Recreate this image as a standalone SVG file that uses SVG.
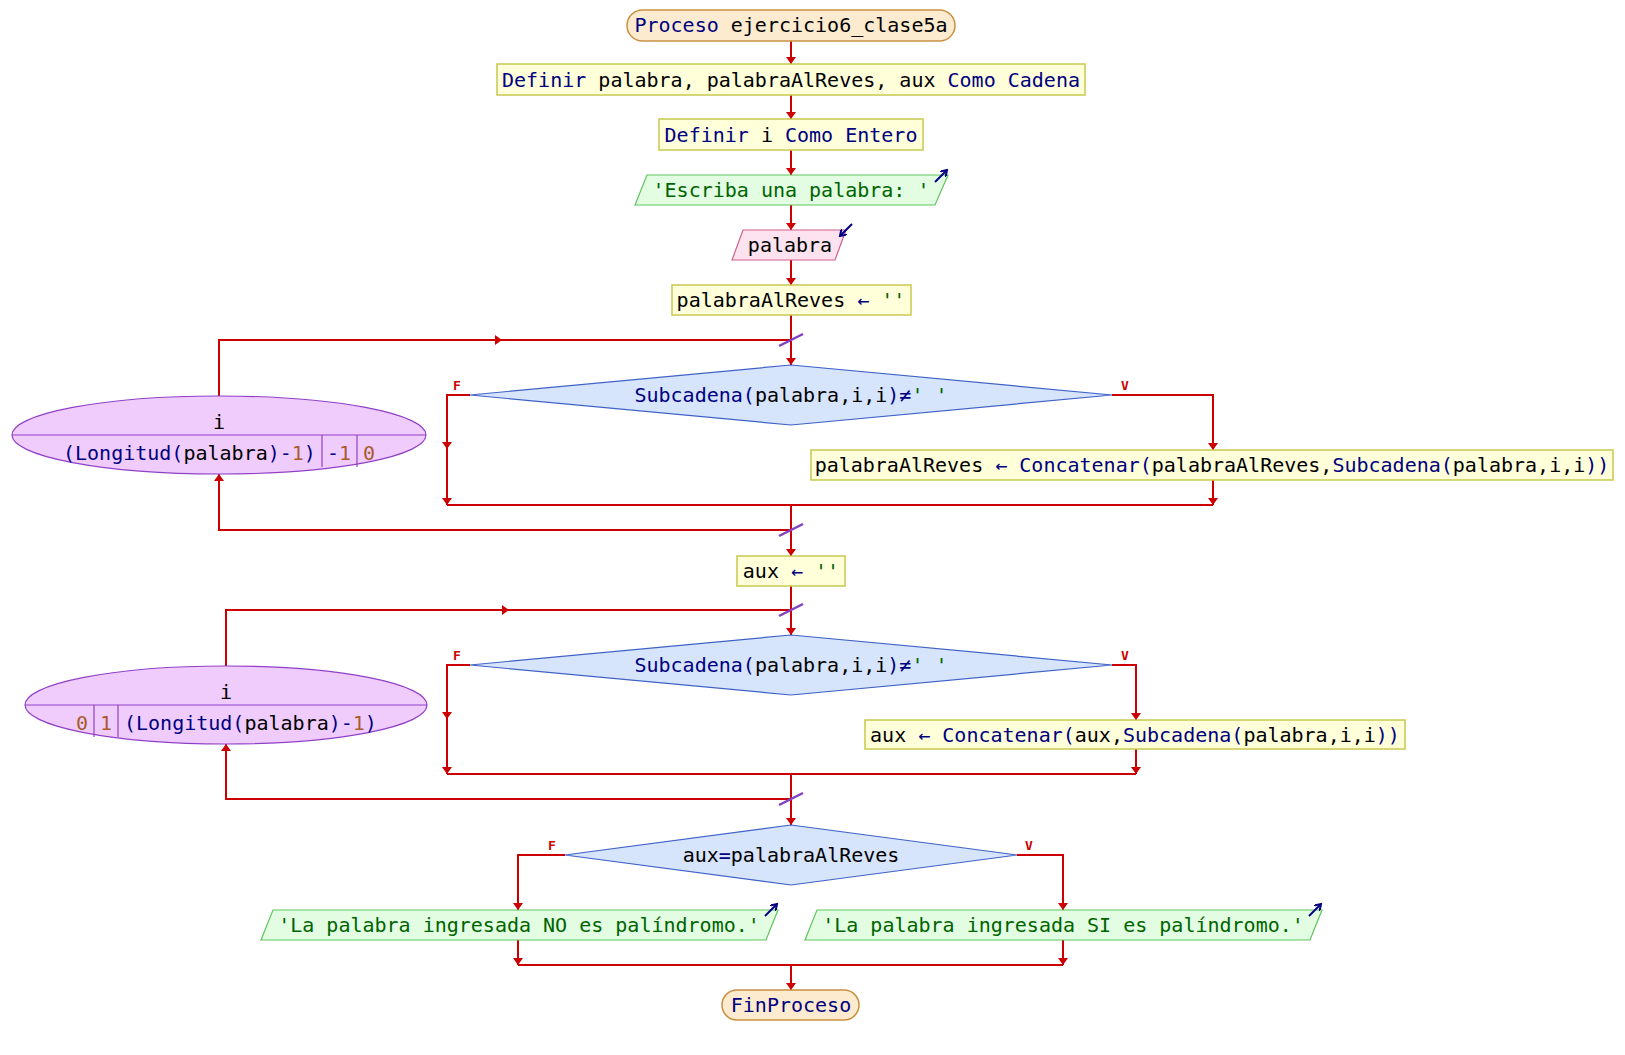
<svg xmlns="http://www.w3.org/2000/svg" width="1625" height="1055" viewBox="0 0 1625 1055">
<defs>
<style>
text{font-family:"DejaVu Sans Mono","Liberation Mono",monospace;font-size:20px;white-space:pre;}
.c{text-anchor:middle;}
.n{fill:#000080;}
.k{fill:#000000;}
.g{fill:#006400;}
.b{fill:#a85c2c;}
.term{fill:#fdebd0;stroke:#c89040;stroke-width:1.5;}
.proc{fill:#ffffd9;stroke:#c8c850;stroke-width:1.5;}
.out{fill:#e2fde2;stroke:#5fc55f;stroke-width:1.2;}
.inp{fill:#fde2ef;stroke:#d0608c;stroke-width:1.2;}
.dec{fill:#d6e4fc;stroke:#3f62c8;stroke-width:1.2;}
.loop{fill:#f0ccfc;stroke:#9040c8;stroke-width:1.2;}
.sep{stroke:#9040c8;stroke-width:1.2;fill:none;}
.ln{fill:none;stroke:#cc0000;stroke-width:2;}
.ar{fill:none;stroke:#cc0000;stroke-width:2;marker-end:url(#ah);}
.sl{stroke:#8040c0;stroke-width:2.5;}
.lbl{font-size:13px;font-weight:bold;fill:#cc0000;text-anchor:middle;}
.ico{stroke:#000080;stroke-width:2;fill:none;marker-end:url(#ih);}
</style>
<marker id="ah" markerUnits="userSpaceOnUse" markerWidth="8" markerHeight="10" refX="7" refY="5" orient="auto" viewBox="0 0 8 10">
<path d="M0,0 L7,5 L0,10 z" fill="#cc0000"/>
</marker>
<marker id="ih" markerUnits="userSpaceOnUse" markerWidth="8" markerHeight="8" refX="6" refY="4" orient="auto" viewBox="0 0 8 8">
<path d="M0,0 L6,4 L0,8" fill="none" stroke="#000080" stroke-width="2"/>
</marker>
</defs>
<rect width="1625" height="1055" fill="#ffffff"/>

<g id="connectors">
<path class="ar" d="M791,41 L791,64"/>
<path class="ar" d="M791,95 L791,119"/>
<path class="ar" d="M791,150 L791,175"/>
<path class="ar" d="M791,205 L791,230"/>
<path class="ar" d="M791,260 L791,285"/>
<path class="ar" d="M791,315 L791,365"/>
<path class="ln" d="M219,396 L219,340 L791,340"/>
<path class="ar" d="M490,340 L502,340"/>
<path class="ln" d="M470,395 L447,395 L447,505"/>
<path class="ar" d="M447,440 L447,449"/>
<path class="ar" d="M447,495 L447,505"/>
<path class="ar" d="M1112,395 L1213,395 L1213,450"/>
<path class="ar" d="M1213,480 L1213,505"/>
<path class="ln" d="M447,505 L1213,505"/>
<path class="ar" d="M791,505 L791,556"/>
<path class="ar" d="M791,530 L219,530 L219,474"/>
<path class="ar" d="M791,586 L791,635"/>
<path class="ln" d="M226,666 L226,610 L791,610"/>
<path class="ar" d="M497,610 L509,610"/>
<path class="ln" d="M470,665 L447,665 L447,774"/>
<path class="ar" d="M447,710 L447,719"/>
<path class="ar" d="M447,764 L447,774"/>
<path class="ar" d="M1112,665 L1136,665 L1136,720"/>
<path class="ar" d="M1136,749 L1136,774"/>
<path class="ln" d="M447,774 L1136,774"/>
<path class="ar" d="M791,774 L791,825"/>
<path class="ar" d="M791,799 L226,799 L226,744"/>
<path class="ar" d="M565,855 L518,855 L518,910"/>
<path class="ar" d="M1017,855 L1063,855 L1063,910"/>
<path class="ar" d="M518,940 L518,965"/>
<path class="ar" d="M1063,940 L1063,965"/>
<path class="ln" d="M518,965 L1063,965"/>
<path class="ar" d="M791,965 L791,990"/>
<line class="sl" x1="779" y1="346" x2="803" y2="334"/>
<line class="sl" x1="779" y1="536" x2="803" y2="524"/>
<line class="sl" x1="779" y1="616" x2="803" y2="604"/>
<line class="sl" x1="779" y1="805" x2="803" y2="793"/>
<text class="lbl" x="457" y="390">F</text>
<text class="lbl" x="1125" y="390">V</text>
<text class="lbl" x="457" y="660">F</text>
<text class="lbl" x="1125" y="660">V</text>
<text class="lbl" x="552" y="850">F</text>
<text class="lbl" x="1029" y="850">V</text>
</g>

<g id="start">
<rect class="term" x="627" y="10" width="328" height="31" rx="15.5"/>
<text class="c" x="791" y="32"><tspan class="n">Proceso</tspan><tspan class="k"> ejercicio6_clase5a</tspan></text>
</g>

<g id="def1">
<rect class="proc" x="497" y="64" width="588" height="31"/>
<text class="c" x="791" y="87"><tspan class="n">Definir</tspan><tspan class="k"> palabra, palabraAlReves, aux </tspan><tspan class="n">Como Cadena</tspan></text>
</g>

<g id="def2">
<rect class="proc" x="659" y="119" width="264" height="31"/>
<text class="c" x="791" y="142"><tspan class="n">Definir</tspan><tspan class="k"> i </tspan><tspan class="n">Como Entero</tspan></text>
</g>

<g id="out1">
<polygon class="out" points="647,175 948,175 935,205 635,205"/>
<text class="c g" x="791" y="197">'Escriba una palabra: '</text>
<path class="ico" d="M935,182 L947,170"/>
</g>

<g id="in1">
<polygon class="inp" points="743,230 846,230 835,260 732,260"/>
<text class="c k" x="790" y="252">palabra</text>
<path class="ico" d="M852,224 L840,236"/>
</g>

<g id="asg1">
<rect class="proc" x="672" y="285" width="239" height="30"/>
<text class="c" x="791" y="307"><tspan class="k">palabraAlReves</tspan><tspan class="n"> ← </tspan><tspan class="g">''</tspan></text>
</g>

<g id="loop1">
<ellipse class="loop" cx="219" cy="435" rx="207" ry="39"/>
<line class="sep" x1="12" y1="435" x2="426" y2="435"/>
<line class="sep" x1="322" y1="435" x2="322" y2="467"/>
<line class="sep" x1="357" y1="435" x2="357" y2="467"/>
<text class="c k" x="219" y="429">i</text>
<text x="63" y="460"><tspan class="n">(Longitud(</tspan><tspan class="k">palabra</tspan><tspan class="n">)-</tspan><tspan class="b">1</tspan><tspan class="n">)</tspan></text>
<text x="327" y="460"><tspan class="n">-</tspan><tspan class="b">1</tspan></text>
<text class="b" x="363" y="460">0</text>
</g>

<g id="if1">
<polygon class="dec" points="791,365 1112,395 791,425 470,395"/>
<text class="c" x="791" y="402"><tspan class="n">Subcadena(</tspan><tspan class="k">palabra,i,i</tspan><tspan class="n">)≠</tspan><tspan class="g">' '</tspan></text>
</g>

<g id="asg2">
<rect class="proc" x="811" y="450" width="802" height="30"/>
<text class="c" x="1212" y="472"><tspan class="k">palabraAlReves</tspan><tspan class="n"> ← Concatenar(</tspan><tspan class="k">palabraAlReves,</tspan><tspan class="n">Subcadena(</tspan><tspan class="k">palabra,i,i</tspan><tspan class="n">))</tspan></text>
</g>

<g id="asg3">
<rect class="proc" x="737" y="556" width="108" height="30"/>
<text class="c" x="791" y="578"><tspan class="k">aux</tspan><tspan class="n"> ← </tspan><tspan class="g">''</tspan></text>
</g>

<g id="loop2">
<ellipse class="loop" cx="226" cy="705" rx="201" ry="39"/>
<line class="sep" x1="25" y1="705" x2="427" y2="705"/>
<line class="sep" x1="94" y1="705" x2="94" y2="737"/>
<line class="sep" x1="118" y1="705" x2="118" y2="737"/>
<text class="c k" x="226" y="699">i</text>
<text class="b" x="76" y="730">0</text>
<text class="b" x="100" y="730">1</text>
<text x="124" y="730"><tspan class="n">(Longitud(</tspan><tspan class="k">palabra</tspan><tspan class="n">)-</tspan><tspan class="b">1</tspan><tspan class="n">)</tspan></text>
</g>

<g id="if2">
<polygon class="dec" points="791,635 1112,665 791,695 470,665"/>
<text class="c" x="791" y="672"><tspan class="n">Subcadena(</tspan><tspan class="k">palabra,i,i</tspan><tspan class="n">)≠</tspan><tspan class="g">' '</tspan></text>
</g>

<g id="asg4">
<rect class="proc" x="865" y="720" width="540" height="29"/>
<text class="c" x="1135" y="742"><tspan class="k">aux</tspan><tspan class="n"> ← Concatenar(</tspan><tspan class="k">aux,</tspan><tspan class="n">Subcadena(</tspan><tspan class="k">palabra,i,i</tspan><tspan class="n">))</tspan></text>
</g>

<g id="if3">
<polygon class="dec" points="791,825 1017,855 791,885 565,855"/>
<text class="c" x="791" y="862"><tspan class="k">aux</tspan><tspan class="n">=</tspan><tspan class="k">palabraAlReves</tspan></text>
</g>

<g id="out2">
<polygon class="out" points="273,910 778,910 766,940 261,940"/>
<text class="c g" x="519" y="932">'La palabra ingresada NO es palíndromo.'</text>
<path class="ico" d="M765,916 L777,904"/>
</g>

<g id="out3">
<polygon class="out" points="817,910 1322,910 1310,940 805,940"/>
<text class="c g" x="1063" y="932">'La palabra ingresada SI es palíndromo.'</text>
<path class="ico" d="M1309,916 L1321,904"/>
</g>

<g id="end">
<rect class="term" x="722" y="990" width="137" height="30" rx="15"/>
<text class="c n" x="791" y="1012">FinProceso</text>
</g>
</svg>
